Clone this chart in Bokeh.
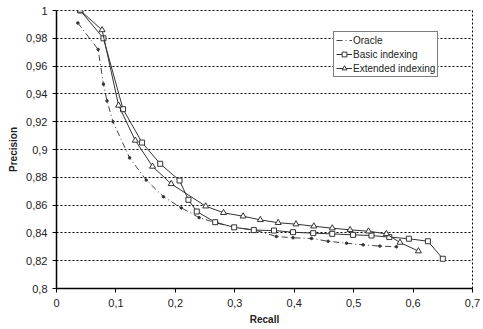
from bokeh.plotting import figure
from bokeh.models import Range1d, FixedTicker, CustomJSTickFormatter, Legend, LegendItem
from bokeh.embed import file_html
from bokeh.resources import INLINE

# Data
oracle_recall = [0.036, 0.070, 0.079, 0.085, 0.095, 0.123, 0.151, 0.180, 0.210, 0.240, 0.270,
                 0.300, 0.334, 0.370, 0.398, 0.429, 0.457, 0.488, 0.516, 0.544, 0.572]
oracle_precision = [0.991, 0.972, 0.947, 0.935, 0.920, 0.894, 0.878, 0.866, 0.858, 0.851, 0.847,
                    0.844, 0.842, 0.8374, 0.8365, 0.836, 0.834, 0.8326, 0.8314, 0.8305, 0.830]

basic_recall = [0.040, 0.079, 0.112, 0.144, 0.1745, 0.207, 0.222, 0.236, 0.267, 0.299, 0.332,
                0.366, 0.398, 0.432, 0.464, 0.499, 0.530, 0.560, 0.593, 0.625, 0.650]
basic_precision = [1.0, 0.980, 0.929, 0.905, 0.8897, 0.8777, 0.8638, 0.8554, 0.8477, 0.844, 0.842,
                   0.8417, 0.8405, 0.8398, 0.8393, 0.8386, 0.8381, 0.837, 0.8358, 0.834, 0.8214]

ext_recall = [0.040, 0.0767, 0.1045, 0.1326, 0.1616, 0.193, 0.251, 0.281, 0.314, 0.343, 0.373,
              0.403, 0.433, 0.464, 0.494, 0.525, 0.555, 0.578, 0.609]
ext_precision = [1.0, 0.986, 0.9317, 0.9065, 0.8878, 0.8753, 0.8592, 0.8545, 0.852, 0.8494, 0.8473,
                 0.8463, 0.8448, 0.8434, 0.8422, 0.8412, 0.8393, 0.8331, 0.8269]

x_ticks = [0, 0.1, 0.2, 0.3, 0.4, 0.5, 0.6, 0.7]
y_ticks = [0.8, 0.82, 0.84, 0.86, 0.88, 0.9, 0.92, 0.94, 0.96, 0.98, 1.0]

FONT = "Liberation Sans"

p = figure(width=483, height=329, output_backend="svg", toolbar_location=None,
           x_range=Range1d(0, 0.7), y_range=Range1d(0.8, 1.0),
           min_border_left=56, min_border_right=11, min_border_top=10, min_border_bottom=41)
p.background_fill_color = "white"
p.border_fill_color = "white"
p.outline_line_color = "black"
p.outline_line_dash = "2 2"
p.outline_line_width = 1

fmt = CustomJSTickFormatter(code="""
return tick.toFixed(2).replace(/0+$/, '').replace(/\\.$/, '').replace('.', ',');
""")

for ax, ticks in ((p.xaxis[0], x_ticks), (p.yaxis[0], y_ticks)):
    ax.ticker = FixedTicker(ticks=ticks)
    ax.formatter = fmt
    ax.axis_line_color = "black"
    ax.axis_line_width = 1.5
    ax.major_tick_line_color = "black"
    ax.major_tick_in = 0
    ax.major_tick_out = 4
    ax.minor_tick_line_color = None
    ax.major_label_text_font = FONT
    ax.major_label_text_font_size = "11px"
    ax.major_label_text_color = "#222222"
    ax.axis_label_text_font = FONT
    ax.axis_label_text_font_size = "10px"
    ax.axis_label_text_font_style = "bold"
    ax.axis_label_text_color = "#222222"

p.xaxis.axis_label = "Recall"
p.yaxis.axis_label = "Precision"
p.xaxis.major_label_standoff = 6
p.yaxis.major_label_standoff = 5
p.xaxis.axis_label_standoff = 4
p.yaxis.axis_label_standoff = 4

p.xgrid.grid_line_color = None
p.ygrid.ticker = FixedTicker(ticks=y_ticks)
p.ygrid.grid_line_color = "black"
p.ygrid.grid_line_dash = "2 2"
p.ygrid.grid_line_width = 1

col = "#333333"
o_line = p.line(oracle_recall, oracle_precision, line_color="#444444", line_width=1,
                line_dash="6 3 1 3")
o_mark = p.scatter(oracle_recall, oracle_precision, marker="circle", size=2.5,
                   fill_color="#333333", line_color="#333333")
b_line = p.line(basic_recall, basic_precision, line_color=col, line_width=1)
b_mark = p.scatter(basic_recall, basic_precision, marker="square", size=5,
                   fill_color="white", line_color=col, line_width=1)
e_line = p.line(ext_recall, ext_precision, line_color=col, line_width=1)
e_mark = p.scatter(ext_recall, ext_precision, marker="triangle", size=6,
                   fill_color="white", line_color=col, line_width=1)

legend = Legend(items=[
    LegendItem(label="Oracle", renderers=[o_line]),
    LegendItem(label="Basic indexing", renderers=[b_line, b_mark]),
    LegendItem(label="Extended indexing", renderers=[e_line, e_mark]),
], location=(277, 211))
legend.border_line_color = "black"
legend.border_line_width = 1
legend.background_fill_color = "white"
legend.background_fill_alpha = 1
legend.label_text_font = FONT
legend.label_text_font_size = "10px"
legend.label_text_color = "#222222"
legend.glyph_width = 16
legend.glyph_height = 12
legend.label_height = 12
legend.spacing = 2
legend.padding = 2
legend.margin = 0
legend.label_standoff = 1
p.add_layout(legend)

open("out.html", "w").write(file_html(p, INLINE))
